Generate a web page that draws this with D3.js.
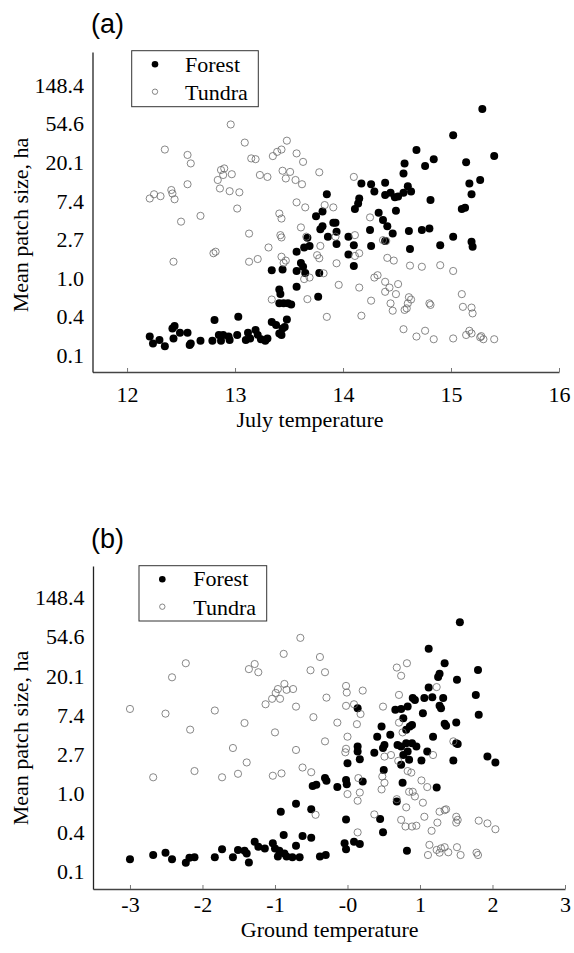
<!DOCTYPE html>
<html><head><meta charset="utf-8">
<script src="https://cdn.jsdelivr.net/npm/d3@7"></script>
<style>
html,body{margin:0;padding:0;background:#fff;}
svg{display:block;}
.tick text{font-family:"Liberation Serif","Times New Roman",serif;font-size:22px;fill:#000;}
</style></head>
<body>
<svg id="chart" width="574" height="953"></svg>
<script>
// y values are natural log of mean patch size (ha)
const yTickValues = [-2, -1, 0, 1, 2, 3, 4, 5];
const yTickLabels = ["0.1", "0.4", "1.0", "2.7", "7.4", "20.1", "54.6", "148.4"];
const julyTicks = [12, 13, 14, 15, 16];
const julyTickLabels = ["12", "13", "14", "15", "16"];
const groundTicks = [-3, -2, -1, 0, 1, 2, 3];
const groundTickLabels = ["-3", "-2", "-1", "-0", "1", "2", "3"];
const seriesNames = ["Forest", "Tundra"];

const forestJuly = [
[12.21,-1.52],[12.24,-1.70],[12.30,-1.61],[12.35,-1.77],[12.43,-1.57],[12.42,-1.31],[12.44,-1.25],[12.49,-1.42],[12.56,-1.42],[12.58,-1.74],[12.59,-1.70],[12.68,-1.63],[12.79,-1.63],[12.81,-1.09],[12.85,-1.48],[12.87,-1.63],[12.89,-1.48],[12.94,-1.52],[12.95,-1.61],[13.02,-1.48],[13.03,-1.01],[13.10,-1.61],[13.12,-1.42],[13.14,-1.57],[13.19,-1.35],[13.21,-1.48],[13.24,-1.59],[13.30,-1.57],[13.28,-1.63],[13.34,-1.14],[13.38,-1.22],[13.41,-1.44],[13.43,-1.48],[13.44,-1.31],[13.48,-1.08],[13.46,-1.27],
[13.34,0.20],[13.41,-0.30],[13.42,-0.42],[13.41,-0.66],[13.45,-0.66],[13.49,-0.66],[13.52,-0.69],[13.44,0.22],[13.57,0.68],[13.57,0.18],[13.57,-0.23],[13.61,0.39],[13.63,0.29],[13.65,0.13],[13.64,0.79],[13.69,0.83],[13.67,1.04],[13.77,-0.49],[13.78,0.13],[13.75,1.60],[13.81,1.72],[13.85,2.17],[13.79,1.26],[13.81,1.34],[13.86,1.07],[13.91,1.43],[13.93,1.43],[13.94,1.20],[13.94,0.88],[14.05,1.07],[14.05,0.61],[14.10,0.85],[14.10,0.31],[14.11,1.79],[14.14,1.93],[14.15,2.06],[14.17,2.45],[14.26,2.43],[14.29,2.24],[14.25,1.24],[14.26,0.83],[14.33,1.69],[14.37,1.50],[14.39,2.47],[14.39,2.15],[14.41,1.34],[14.44,2.21],[14.48,2.09],[14.39,0.96],[14.46,1.15],[14.49,1.74],[14.51,2.11],[14.56,2.21],[14.57,2.97],[14.56,2.71],[14.60,2.38],[14.63,2.24],[14.61,1.22],[14.62,0.75],[14.68,3.32],[14.76,2.90],[14.84,3.08],[14.81,2.02],[14.73,1.24],[14.80,1.28],[14.90,0.85],[15.02,3.70],[15.02,1.07],[15.14,3.00],[15.17,2.45],[15.19,2.17],[15.10,1.79],[15.13,1.82],[15.19,0.94],[15.20,0.81],[15.27,2.54],[15.29,4.38],[15.40,3.16]
];
const tundraJuly = [
[12.96,3.98],[12.35,3.33],[13.09,3.51],[12.56,3.19],[12.59,2.97],[13.15,3.10],[13.19,3.08],[13.35,3.16],[13.39,3.27],[13.43,3.33],[13.48,3.56],[13.57,3.23],[13.63,3.01],[13.78,2.74],[12.87,2.80],[12.90,2.84],[12.89,2.67],[12.97,2.69],[12.84,2.54],[12.86,2.32],[12.95,2.25],[13.04,2.22],[12.56,2.43],[13.23,2.67],[13.30,2.62],[13.44,2.78],[13.51,2.75],[13.47,2.58],[13.56,2.54],[13.62,2.43],[12.21,2.06],[12.25,2.17],[12.31,2.12],[12.41,2.28],[12.44,2.04],[12.42,2.19],[13.02,1.80],[12.68,1.61],[12.50,1.46],[13.41,1.67],[13.43,1.54],[13.57,1.96],[13.65,1.83],[13.83,1.89],[13.91,1.83],[14.10,2.62],[14.25,1.57],[13.61,1.31],[13.13,1.15],[13.42,1.11],[13.43,1.05],[13.66,1.07],[13.93,1.07],[14.11,1.11],[14.37,0.98],[14.40,0.96],[12.80,0.64],[12.82,0.68],[13.31,0.79],[13.43,0.55],[13.47,0.45],[13.45,0.39],[13.13,0.42],[13.21,0.49],[12.43,0.42],[13.79,0.83],[13.76,0.59],[13.78,0.51],[13.94,0.38],[14.11,0.57],[14.15,0.64],[13.82,0.12],[13.69,0.01],[13.64,-0.03],[14.41,0.52],[14.47,0.45],[14.62,0.32],[14.73,0.29],[14.90,0.33],[15.02,0.18],[14.32,0.07],[14.29,0.01],[14.39,-0.10],[14.43,-0.25],[14.51,-0.16],[14.39,-0.36],[14.49,-0.42],[13.96,-0.18],[14.15,-0.25],[13.34,-0.56],[13.67,-0.55],[14.26,-0.59],[14.44,-0.66],[14.61,-0.50],[14.63,-0.56],[14.60,-0.66],[14.59,-0.79],[14.57,-0.83],[14.46,-0.85],[14.80,-0.66],[14.81,-0.70],[15.10,-0.42],[15.11,-0.75],[15.19,-0.77],[15.20,-0.92],[13.85,-1.01],[14.17,-0.98],[14.56,-1.33],[14.68,-1.52],[14.76,-1.37],[14.84,-1.59],[15.02,-1.57],[15.14,-1.48],[15.17,-1.37],[15.19,-1.44],[15.27,-1.54],[15.30,-1.59],[15.40,-1.59],[15.28,-1.51]
];
const forestGround = [
[-3.00,-1.70],[-2.68,-1.59],[-2.51,-1.53],[-2.42,-1.70],[-2.23,-1.79],[-2.18,-1.66],[-2.11,-1.65],[-1.83,-1.65],[-1.73,-1.44],[-1.58,-1.65],[-1.51,-1.46],[-1.42,-1.48],[-1.39,-1.55],[-1.36,-1.78],[-1.28,-1.25],[-1.23,-1.38],[-1.14,-1.42],[-1.03,-1.29],[-1.00,-1.42],[-0.96,-1.63],[-0.94,-1.48],[-0.87,-1.55],[-0.84,-1.63],[-0.76,-1.65],[-0.66,-1.65],[-0.71,-1.35],[-0.88,-1.08],[-0.62,-1.10],[-0.50,-1.15],[-0.38,-1.63],[-0.30,-1.59],[-0.04,-1.29],[-0.02,-1.44],[0.09,-1.25],[0.17,-1.31],[-0.02,-0.68],[-0.92,-0.48],[-0.71,-0.28],[-0.50,-0.42],[-0.48,0.18],[-0.43,0.21],[-0.31,0.38],[-0.29,0.31],[-0.14,0.15],[-0.02,0.33],[-0.01,0.22],[0.21,0.29],[0.00,0.76],[0.14,1.19],[0.14,1.06],[0.17,0.86],[0.14,2.17],[0.37,1.03],[0.41,1.44],[0.47,1.70],[0.49,1.15],[0.51,1.23],[0.59,1.49],[0.50,0.59],[0.45,-0.67],[0.49,-1.01],[0.66,2.13],[0.74,2.15],[0.77,1.91],[0.83,2.21],[0.90,2.43],[0.93,2.38],[0.81,1.62],[0.86,1.70],[0.89,1.74],[0.69,1.23],[0.74,1.19],[0.81,1.27],[0.89,1.27],[0.95,1.19],[0.77,0.97],[0.83,1.06],[0.85,0.85],[0.74,0.72],[0.76,0.26],[0.68,-0.22],[1.02,0.83],[1.04,2.04],[1.06,2.43],[1.10,1.06],[1.12,2.70],[1.17,2.45],[1.18,1.44],[1.23,0.14],[1.25,2.97],[1.27,3.05],[1.27,2.23],[1.29,2.17],[1.32,2.43],[1.34,3.32],[1.34,1.77],[1.36,1.72],[1.50,1.80],[1.51,2.90],[1.50,1.27],[1.52,1.25],[1.46,0.83],[1.12,3.69],[1.55,4.37],[1.77,2.51],[1.80,3.15],[1.81,2.00],[1.93,0.93],[2.04,0.78],[0.82,-1.48]
];
const tundraGround = [
[-3.00,2.15],[-2.68,0.40],[-2.51,2.03],[-2.42,2.96],[-2.23,3.32],[-2.17,1.62],[-2.11,0.56],[-1.83,2.11],[-1.73,0.40],[-1.58,1.15],[-1.51,0.49],[-1.42,1.79],[-1.39,0.78],[-1.36,3.17],[-1.28,3.30],[-1.23,3.09],[-1.13,2.27],[-1.04,2.41],[-0.99,2.56],[-0.96,2.66],[-0.93,2.41],[-0.87,2.79],[-0.84,2.64],[-0.75,2.66],[-0.88,3.56],[-0.65,3.97],[-1.00,1.55],[-1.03,0.44],[-0.91,0.50],[-0.71,2.21],[-0.71,1.10],[-0.62,0.65],[-0.50,0.53],[-0.51,3.14],[-0.47,1.94],[-0.38,3.48],[-0.31,3.09],[-0.29,2.44],[-0.31,1.32],[-0.44,-0.56],[-0.14,1.80],[-0.02,2.74],[-0.01,2.57],[-0.02,2.23],[0.09,2.27],[0.18,2.02],[0.13,1.76],[0.21,2.62],[0.00,1.44],[-0.02,1.13],[-0.03,1.04],[0.15,0.38],[0.17,0.01],[0.14,-0.20],[0.00,-0.03],[0.14,-1.01],[0.37,-0.55],[0.49,2.21],[0.51,0.93],[0.60,0.97],[0.48,0.42],[0.51,0.26],[0.47,0.09],[0.68,3.21],[0.74,3.00],[0.82,3.32],[0.71,2.51],[0.71,1.80],[0.76,1.55],[0.70,0.82],[0.83,0.56],[0.88,0.52],[0.85,0.03],[0.90,0.03],[0.93,-0.09],[1.04,-0.25],[1.02,0.32],[1.10,0.15],[0.81,-0.37],[0.68,-0.16],[0.74,-0.69],[0.80,-0.86],[0.89,-0.86],[0.95,-0.84],[1.06,-0.61],[1.16,-0.97],[1.24,-0.76],[1.27,-0.48],[1.34,-0.44],[1.36,-0.42],[1.18,0.97],[1.23,2.71],[1.46,1.32],[1.50,-0.61],[1.50,-0.76],[1.52,-0.69],[1.81,-0.71],[1.93,-0.78],[2.04,-0.93],[1.13,-1.33],[1.11,-1.59],[1.23,-1.46],[1.27,-1.53],[1.29,-1.42],[1.34,-1.39],[1.39,-1.52],[1.51,-1.39],[1.56,-1.59],[1.78,-1.53],[1.80,-1.59]
];

const svg = d3.select("#chart");
svg.append("rect").attr("width", 574).attr("height", 953).attr("fill", "#fff");

const SERIF = '"Liberation Serif","Times New Roman",serif';
const SANS = '"Liberation Sans",Arial,sans-serif';

const panels = [
  { tag: "(a)", tagX: 91, tagY: 33,
    xDomain: [11.68, 16], xRange: [92.5, 559],
    yDomain: [-2.44, 5.86], yRange: [372, 52],
    xTicks: julyTicks, xLabels: julyTickLabels,
    xTitle: "July temperature", xTitleX: 310, xTitleY: 426.5, tickBase: 401.5,
    yTitleY: 225,
    forest: forestJuly, tundra: tundraJuly,
    legend: { x: 131.7, y: 50.7, w: 126.6, h: 56, mx: 155, my1: 64.3, my2: 91.7, tx: 185, ty1: 72.3, ty2: 99.5 } },
  { tag: "(b)", tagX: 91, tagY: 548,
    xDomain: [-3.51, 3], xRange: [93, 565],
    yDomain: [-2.46, 5.81], yRange: [889, 566],
    xTicks: groundTicks, xLabels: groundTickLabels,
    xTitle: "Ground temperature", xTitleX: 329.7, xTitleY: 936.5, tickBase: 911.5,
    yTitleY: 738,
    forest: forestGround, tundra: tundraGround,
    legend: { x: 139, y: 565.7, w: 127.7, h: 55.3, mx: 162.3, my1: 579.3, my2: 606.7, tx: 193.3, ty1: 586, ty2: 614.5 } }
];

panels.forEach(p => {
  const x = d3.scaleLinear().domain(p.xDomain).range(p.xRange);
  const y = d3.scaleLinear().domain(p.yDomain).range(p.yRange);
  const g = svg.append("g");

  // points
  g.append("g").selectAll("circle").data(p.forest).join("circle")
    .attr("cx", d => x(d[0])).attr("cy", d => y(d[1])).attr("r", 4)
    .attr("fill", "#000");
  g.append("g").selectAll("circle").data(p.tundra).join("circle")
    .attr("cx", d => x(d[0])).attr("cy", d => y(d[1])).attr("r", 3.6)
    .attr("fill", "none").attr("stroke", "#6a6a6a").attr("stroke-width", 0.8);

  // x axis
  const xAxis = d3.axisBottom(x).tickValues(p.xTicks)
    .tickFormat((d, i) => p.xLabels[i]).tickSizeInner(-4).tickSizeOuter(0);
  const gx = g.append("g").attr("transform", `translate(0,${p.yRange[0]})`).call(xAxis);
  gx.select(".domain").attr("stroke", "#444").attr("stroke-width", 1.3);
  gx.selectAll(".tick line").attr("stroke", "#777").attr("stroke-width", 1);
  gx.selectAll(".tick text").attr("y", p.tickBase - p.yRange[0]).attr("dy", null);

  // y axis
  const yAxis = d3.axisLeft(y).tickValues(yTickValues)
    .tickFormat((d, i) => yTickLabels[i]).tickSize(0).tickPadding(8.5);
  const gy = g.append("g").attr("transform", `translate(${p.xRange[0]},0)`).call(yAxis);
  gy.select(".domain").attr("stroke", "#222").attr("stroke-width", 1.3);
  gy.selectAll(".tick text").attr("dy", "0.33em");

  // axis titles
  g.append("text").attr("x", p.xTitleX).attr("y", p.xTitleY)
    .attr("text-anchor", "middle").attr("font-family", SERIF).attr("font-size", 22)
    .text(p.xTitle);
  g.append("text").attr("transform", `translate(28.3,${p.yTitleY}) rotate(-90)`)
    .attr("text-anchor", "middle").attr("font-family", SERIF).attr("font-size", 22)
    .text("Mean patch size, ha");

  // panel tag
  g.append("text").attr("x", p.tagX).attr("y", p.tagY)
    .attr("font-family", SANS).attr("font-size", 27).text(p.tag);

  // legend
  const L = p.legend;
  g.append("rect").attr("x", L.x).attr("y", L.y).attr("width", L.w).attr("height", L.h)
    .attr("fill", "#fff").attr("stroke", "#333").attr("stroke-width", 1);
  g.append("circle").attr("cx", L.mx).attr("cy", L.my1).attr("r", 3.3).attr("fill", "#000");
  g.append("circle").attr("cx", L.mx).attr("cy", L.my2).attr("r", 2.7)
    .attr("fill", "none").attr("stroke", "#6a6a6a").attr("stroke-width", 0.8);
  g.append("text").attr("x", L.tx).attr("y", L.ty1).attr("font-family", SERIF)
    .attr("font-size", 22).text(seriesNames[0]);
  g.append("text").attr("x", L.tx).attr("y", L.ty2).attr("font-family", SERIF)
    .attr("font-size", 22).text(seriesNames[1]);
});
</script>
</body></html>
